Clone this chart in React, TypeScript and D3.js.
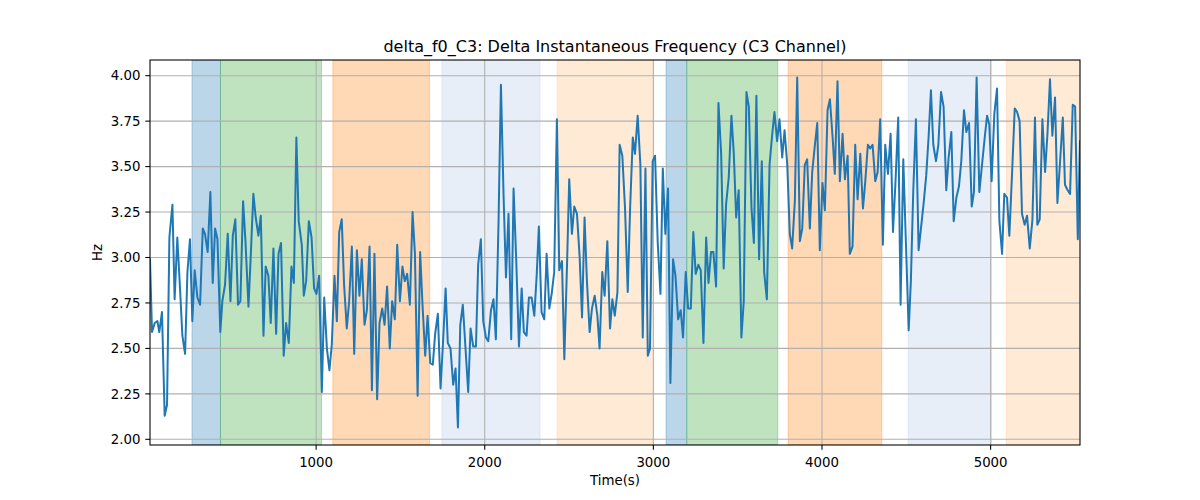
import * as d3 from "d3";

// sample times (s) and delta f0 values (Hz)
const times = [
  15, 27, 43, 59, 70, 86, 102, 116, 130, 148, 161, 177, 193, 207, 223, 237, 252, 266, 280, 296,
  312, 328, 341, 357, 373, 387, 401, 415, 432, 444, 460, 476, 492, 506, 521, 537, 551, 567, 581, 599,
  612, 628, 642, 658, 672, 688, 701, 717, 731, 747, 763, 777, 792, 808, 822, 838, 854, 868, 883, 897,
  915, 927, 941, 957, 973, 988, 1002, 1018, 1034, 1048, 1064, 1079, 1093, 1109, 1123, 1137, 1152, 1166, 1182, 1196,
  1212, 1226, 1242, 1257, 1271, 1287, 1301, 1317, 1331, 1346, 1362, 1376, 1392, 1406, 1421, 1437, 1451, 1467, 1481, 1497,
  1512, 1526, 1540, 1556, 1572, 1586, 1602, 1617, 1631, 1647, 1661, 1677, 1692, 1706, 1722, 1738, 1752, 1768, 1781, 1797,
  1813, 1827, 1841, 1855, 1870, 1886, 1902, 1916, 1932, 1948, 1961, 1977, 1991, 2007, 2021, 2037, 2052, 2066, 2082, 2096,
  2112, 2126, 2141, 2157, 2171, 2187, 2203, 2219, 2232, 2248, 2262, 2278, 2294, 2308, 2321, 2337, 2353, 2367, 2383, 2397,
  2412, 2428, 2442, 2458, 2472, 2488, 2501, 2517, 2531, 2547, 2563, 2577, 2592, 2606, 2622, 2636, 2652, 2668, 2681, 2697,
  2711, 2727, 2743, 2757, 2771, 2787, 2800, 2816, 2832, 2848, 2862, 2878, 2891, 2907, 2923, 2937, 2953, 2967, 2980, 2996,
  3010, 3026, 3042, 3056, 3071, 3087, 3101, 3117, 3131, 3147, 3162, 3176, 3192, 3206, 3222, 3237, 3251, 3267, 3281, 3297,
  3313, 3327, 3342, 3356, 3372, 3386, 3402, 3417, 3431, 3447, 3463, 3477, 3491, 3506, 3522, 3536, 3552, 3566, 3582, 3596,
  3611, 3627, 3643, 3657, 3673, 3689, 3703, 3718, 3734, 3748, 3764, 3778, 3794, 3809, 3823, 3839, 3853, 3869, 3883, 3898,
  3912, 3928, 3942, 3958, 3972, 3987, 4003, 4017, 4033, 4047, 4063, 4076, 4092, 4106, 4122, 4136, 4152, 4165, 4181, 4197,
  4211, 4227, 4243, 4256, 4272, 4286, 4300, 4316, 4330, 4345, 4361, 4375, 4391, 4407, 4421, 4436, 4452, 4466, 4482, 4498,
  4514, 4527, 4541, 4557, 4573, 4588, 4603, 4618, 4632, 4646, 4660, 4676, 4690, 4706, 4721, 4737, 4751, 4767, 4781, 4797,
  4812, 4826, 4842, 4856, 4872, 4888, 4901, 4917, 4933, 4949, 4965, 4979, 4992, 5006, 5022, 5038, 5052, 5068, 5081, 5097,
  5111, 5127, 5143, 5157, 5172, 5186, 5202, 5216, 5232, 5248, 5263, 5277, 5291, 5307, 5323, 5337, 5352, 5366, 5382, 5396,
  5412, 5428, 5441, 5457, 5471, 5487, 5501, 5517, 5530,
];

const hz = [
  2.99, 2.59, 2.64, 2.65, 2.59, 2.70, 2.13, 2.19, 3.11, 3.29, 2.77, 3.11, 2.83, 2.57, 2.47, 2.92, 3.10, 2.65, 2.93, 2.78,
  2.74, 3.16, 3.13, 3.03, 3.36, 2.86, 3.16, 3.10, 2.59, 2.76, 2.85, 3.13, 2.76, 3.12, 3.21, 2.74, 2.76, 3.31, 3.09, 2.73,
  3.00, 3.35, 3.22, 3.12, 3.23, 2.57, 2.95, 2.90, 2.64, 3.05, 2.58, 3.02, 3.08, 2.46, 2.64, 2.53, 2.95, 2.86, 3.66, 3.20,
  3.07, 2.79, 2.87, 3.20, 3.11, 2.83, 2.80, 2.90, 2.26, 2.78, 2.50, 2.38, 2.52, 2.90, 2.65, 3.14, 3.21, 2.85, 2.61, 2.76,
  3.06, 2.47, 3.04, 2.79, 2.99, 2.63, 2.71, 3.06, 2.27, 3.02, 2.22, 2.64, 2.72, 2.63, 2.84, 2.50, 2.76, 2.66, 3.07, 2.76,
  2.95, 2.87, 2.91, 2.74, 3.25, 3.02, 2.24, 3.03, 2.74, 2.46, 2.68, 2.42, 2.41, 2.58, 2.69, 2.28, 2.52, 2.83, 2.53, 2.50,
  2.30, 2.39, 2.065, 2.63, 2.74, 2.50, 2.26, 2.61, 2.51, 2.51, 2.96, 3.10, 2.65, 2.56, 2.54, 2.71, 2.77, 2.55, 3.20, 3.95,
  3.33, 2.89, 3.24, 2.55, 3.38, 2.98, 2.51, 2.83, 2.59, 2.57, 2.78, 2.78, 2.68, 2.90, 3.17, 2.70, 2.66, 3.02, 2.72, 2.80,
  2.92, 3.76, 2.93, 2.98, 2.44, 2.96, 3.43, 3.13, 3.28, 3.24, 3.00, 2.67, 3.22, 2.87, 2.59, 2.72, 2.79, 2.68, 2.50, 2.92,
  2.79, 3.09, 2.61, 2.77, 2.68, 2.81, 3.62, 3.56, 3.27, 2.81, 3.27, 3.66, 3.57, 3.78, 3.51, 2.56, 3.49, 2.46, 2.50, 3.53,
  3.56, 3.08, 2.80, 3.49, 3.13, 3.38, 2.31, 2.99, 2.90, 2.66, 2.71, 2.56, 2.92, 2.72, 2.72, 3.14, 2.91, 2.96, 2.93, 2.53,
  3.11, 2.86, 3.03, 3.03, 2.84, 3.85, 3.57, 2.94, 3.29, 3.44, 3.78, 3.57, 3.22, 3.37, 2.56, 2.76, 3.91, 3.83, 3.27, 3.08,
  3.89, 2.99, 3.53, 2.92, 2.77, 3.51, 3.66, 3.80, 3.64, 3.76, 3.55, 3.70, 3.51, 3.13, 3.05, 3.31, 3.99, 3.09, 3.16, 3.51,
  3.54, 3.16, 3.47, 3.62, 3.74, 3.04, 3.41, 3.26, 3.81, 3.87, 3.66, 3.46, 3.97, 3.42, 3.68, 3.43, 3.56, 3.02, 3.06, 3.62,
  3.32, 3.57, 3.27, 3.41, 3.62, 3.60, 3.62, 3.42, 3.47, 3.76, 3.07, 3.62, 3.46, 3.68, 3.14, 3.42, 3.77, 2.74, 3.54, 3.07,
  2.60, 2.87, 3.36, 3.76, 3.04, 3.17, 3.30, 3.45, 3.66, 3.92, 3.62, 3.53, 3.62, 3.91, 3.83, 3.37, 3.55, 3.69, 3.20, 3.33,
  3.39, 3.53, 3.81, 3.69, 3.74, 3.28, 3.36, 3.99, 3.36, 3.51, 3.66, 3.78, 3.73, 3.42, 3.79, 3.93, 3.20, 3.02, 3.35, 3.33,
  3.12, 3.46, 3.82, 3.80, 3.75, 3.24, 3.18, 3.23, 3.05, 3.21, 3.77, 3.18, 3.21, 3.76, 3.47, 3.68, 3.98, 3.67, 3.88, 3.30,
  3.53, 3.77, 3.40, 3.37, 3.35, 3.84, 3.83, 3.10, 3.64,
];

// shaded segments
const bandStarts = [264, 433, 1099, 1746, 2429, 3075, 3198, 3799, 4511, 5093];
const bandEnds = [433, 1032, 1673, 2328, 3002, 3198, 3738, 4355, 5006, 5600];
const bandColors = [
  "#1f77b4", "#2ca02c", "#ff7f0e", "#aec7e8", "#ffbb78",
  "#1f77b4", "#2ca02c", "#ff7f0e", "#aec7e8", "#ffbb78",
];

const xTicks = [1000, 2000, 3000, 4000, 5000];
const yTicks = [2.0, 2.25, 2.5, 2.75, 3.0, 3.25, 3.5, 3.75, 4.0];

const W = 1200;
const H = 500;
const left = 150;
const right = 1080;
const top = 60;
const bottom = 445;
const font = "DejaVu Sans, sans-serif";

export default function App() {
  const x = d3.scaleLinear().domain(d3.extent(times) as [number, number]).range([left, right]);
  const [lo, hi] = d3.extent(hz) as [number, number];
  const pad = (hi - lo) * 0.05;
  const y = d3.scaleLinear().domain([lo - pad, hi + pad]).range([bottom, top]);

  const pts = times.map((t, i) => [t, hz[i]] as [number, number]);
  const line = d3
    .line<[number, number]>()
    .x((d) => x(d[0]))
    .y((d) => y(d[1]));

  return (
    <svg
      width={W}
      height={H}
      style={{ position: "absolute", left: 0, top: 0, background: "#fff" }}
      fontFamily={font}
    >
      <defs>
        <clipPath id="plot">
          <rect x={left} y={top} width={right - left} height={bottom - top} />
        </clipPath>
      </defs>

      <g clipPath="url(#plot)">
        {bandStarts.map((s, i) => (
          <rect
            key={i}
            x={x(s)}
            y={top}
            width={x(bandEnds[i]) - x(s)}
            height={bottom - top}
            fill={bandColors[i]}
            fillOpacity={0.3}
            stroke={bandColors[i]}
            strokeOpacity={0.3}
            strokeWidth={1}
          />
        ))}
        {xTicks.map((t) => (
          <line key={t} x1={x(t)} x2={x(t)} y1={top} y2={bottom} stroke="#b0b0b0" strokeWidth={1.07} />
        ))}
        {yTicks.map((t) => (
          <line key={t} x1={left} x2={right} y1={y(t)} y2={y(t)} stroke="#b0b0b0" strokeWidth={1.07} />
        ))}
        <path d={line(pts) ?? ""} fill="none" stroke="#1f77b4" strokeWidth={2} strokeLinejoin="round" strokeLinecap="square" />
      </g>

      <rect x={left} y={top} width={right - left} height={bottom - top} fill="none" stroke="#000" strokeWidth={1.07} />

      {xTicks.map((t) => (
        <g key={t}>
          <line x1={x(t)} x2={x(t)} y1={bottom} y2={bottom + 4.7} stroke="#000" strokeWidth={1.07} />
          <text x={x(t)} y={466.5} fontSize={13.33} textAnchor="middle" fill="#000">
            {t}
          </text>
        </g>
      ))}
      {yTicks.map((t) => (
        <g key={t}>
          <line x1={left - 4.7} x2={left} y1={y(t)} y2={y(t)} stroke="#000" strokeWidth={1.07} />
          <text x={140.5} y={y(t) + 4.8} fontSize={13.33} textAnchor="end" fill="#000">
            {t.toFixed(2)}
          </text>
        </g>
      ))}

      <text x={(left + right) / 2} y={52} fontSize={16} textAnchor="middle" fill="#000">
        delta_f0_C3: Delta Instantaneous Frequency (C3 Channel)
      </text>
      <text x={(left + right) / 2} y={485} fontSize={13.33} textAnchor="middle" fill="#000">
        Time(s)
      </text>
      <text transform={`translate(101.5,${(top + bottom) / 2}) rotate(-90)`} fontSize={13.33} textAnchor="middle" fill="#000">
        Hz
      </text>
    </svg>
  );
}
